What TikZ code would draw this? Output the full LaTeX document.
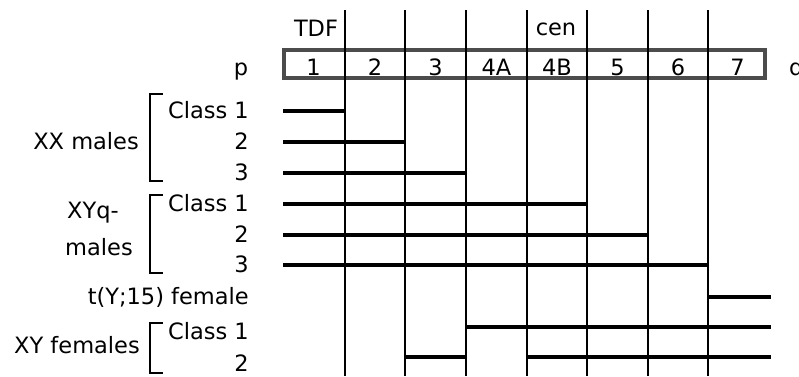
\documentclass[tikz,border=0pt]{standalone}
\usepackage{fontspec}
\setmainfont{DejaVu Sans}
\tikzset{
  map label/.style={font=\fontsize{22.5}{26}\selectfont,inner sep=0pt},
  map box/.style={draw=black!70,line width=4pt},
  map line/.style={black,line width=2pt},
  del bar/.style={black,line width=4.2pt},
  grp bracket/.style={black,line width=1.8pt}
}
\newcommand{\grpbracketat}[3]{%
  \draw[grp bracket] (#1+13,#2)--(#1,#2)--(#1,#3)--(#1+13,#3);%
}

\begin{document}
\begin{tikzpicture}[x=1pt,y=-1pt]
  \useasboundingbox (0,0) rectangle (799,376);
  % chromosome map
  \draw[map box] (284,50) rectangle (765,78);
  \node[map label,anchor=base] (p) at (241,75) {p};
  \node[map label,anchor=base west] (q) at (789,75) {q};
  \foreach \name/\x in {1/313.5,2/375,3/435.5,4A/496.5,4B/557,5/617.5,6/678,7/737.5}
    \node[map label,anchor=base] (c\name) at (\x,75) {\name};
  \node[map label,anchor=base] (tdf) at (316,36) {TDF};
  \node[map label,anchor=base] (cen) at (556,35) {cen};
  \foreach \i/\x in {1/345,2/405,3/466,4/527,5/587,6/648,7/708} {
    \coordinate (t\i) at (\x,10);
    \coordinate (b\i) at (\x,376);
    \draw[map line] (t\i)--(b\i);
  }
  \coordinate (b0) at (283,376);
  \coordinate (b8) at (771,376);
  \foreach \r/\y in {1/111,2/142,3/173,4/204,5/235,6/265,7/297,8/327,9/357}
    \coordinate (r\r) at (0,\y);
  % deletion intervals
  \foreach \r/\a/\b in {1/0/1,2/0/2,3/0/3,4/0/5,5/0/6,6/0/7,7/7/8,8/3/8,9/2/3,9/4/8}
    \draw[del bar] (b\a |- r\r)--(b\b |- r\r);
  % row labels
  \node[map label,anchor=base east] (xx1) at (249,118) {Class 1};
  \node[map label,anchor=base east] (xx2) at (249,149) {2};
  \node[map label,anchor=base east] (xx3) at (249,180) {3};
  \node[map label,anchor=base east] (xyq1) at (249,211) {Class 1};
  \node[map label,anchor=base east] (xyq2) at (249,242) {2};
  \node[map label,anchor=base east] (xyq3) at (249,272) {3};
  \node[map label,anchor=base east] (tyf) at (249,304) {t(Y;15) female};
  \node[map label,anchor=base east] (xyf1) at (249,339) {Class 1};
  \node[map label,anchor=base east] (xyf2) at (249,371) {2};
  % group labels
  \node[map label,anchor=base east] (xxm) at (139,149) {XX males};
  \node[map label,anchor=base] (xyqm) at (93,218) {XYq-};
  \node[map label,anchor=base] (xyqm2) at (99,255) {males};
  \node[map label,anchor=base east] (xyf) at (140,353) {XY females};
  \grpbracketat{150}{94}{181}
  \grpbracketat{150}{195}{273}
  \grpbracketat{150}{323}{373}
\end{tikzpicture}
\end{document}
